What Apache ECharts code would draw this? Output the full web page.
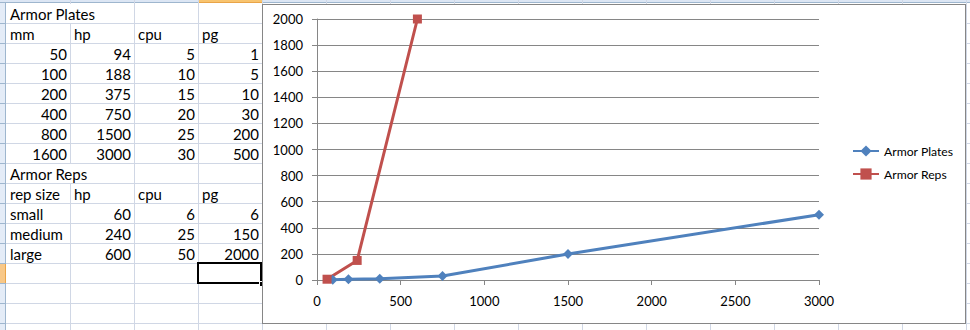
<!DOCTYPE html>
<html>
<head>
<meta charset="utf-8">
<script src="https://cdn.jsdelivr.net/npm/echarts@6/dist/echarts.min.js"></script>
<style>
  html, body { margin:0; padding:0; background:#fff; }
  body { width:970px; height:330px; overflow:hidden; position:relative; font-family: Lato, "Noto Sans", sans-serif; }
  .ln { position:absolute; background:#D0D7E5; }
  .cell { position:absolute; height:20px; line-height:21px; font-size:15px; color:#000; white-space:nowrap; box-sizing:border-box; }
  .l { text-align:left; padding-left:3px; }
  .r { text-align:right; padding-right:3px; }
  #chart { position:absolute; left:262px; top:4px; width:704px; height:320px; box-sizing:border-box; border:1px solid #868686; background:#fff; }
</style>
</head>
<body>
<div id="sheet"></div>
<div id="chart"></div>
<script>
// ---- data ----
const platesTitle = 'Armor Plates';
const platesHeader = ['mm', 'hp', 'cpu', 'pg'];
const plateMm  = [50, 100, 200, 400, 800, 1600];
const plateHp  = [94, 188, 375, 750, 1500, 3000];
const plateCpu = [5, 10, 15, 20, 25, 30];
const platePg  = [1, 5, 10, 30, 200, 500];

const repsTitle = 'Armor Reps';
const repsHeader = ['rep size', 'hp', 'cpu', 'pg'];
const repSize = ['small', 'medium', 'large'];
const repHp   = [60, 240, 600];
const repCpu  = [6, 25, 50];
const repPg   = [6, 150, 2000];

const xTicks = { min: 0, max: 3000, interval: 500 };
const yTicks = { min: 0, max: 2000, interval: 200 };

// ---- spreadsheet backdrop ----
const sheet = document.getElementById('sheet');
const COL0 = 6, COLW = 64, ROW0 = 3, ROWH = 20;
function add(html) { sheet.insertAdjacentHTML('beforeend', html); }
add('<div style="position:absolute;left:0;top:0;width:970px;height:3px;background:#DCE6F4;border-bottom:1px solid #9EB6CE;box-sizing:border-box"></div>');
add('<div style="position:absolute;left:198px;top:0;width:64px;height:3px;background:#F8C46F;border-bottom:1px solid #E9A448;box-sizing:border-box"></div>');
add('<div style="position:absolute;left:0;top:3px;width:6px;height:327px;background:#E4ECF7;border-right:1px solid #9EB6CE;box-sizing:border-box"></div>');
add('<div style="position:absolute;left:0;top:263px;width:6px;height:20px;background:#F8C888;border-right:1px solid #E9A448;box-sizing:border-box"></div>');
for (let k = 1; k < 17; k++) {
  add('<div class="ln" style="left:0;top:' + (ROW0 + k * ROWH) + 'px;width:6px;height:1px;background:#9EB6CE"></div>');
}
for (let c = 1; c < 16; c++) {
  const x = COL0 + c * COLW;
  add('<div class="ln" style="left:' + x + 'px;top:0;width:1px;height:330px"></div>');
}
for (let k = 1; k < 17; k++) {
  add('<div class="ln" style="left:6px;top:' + (ROW0 + k * ROWH) + 'px;width:964px;height:1px"></div>');
}
function cell(row, col, text, cls, span) {
  const x = COL0 + col * COLW + 1, y = ROW0 + row * ROWH + 1;
  const w = (span || 1) * COLW - 1;
  add('<div class="cell ' + cls + '" style="left:' + x + 'px;top:' + y + 'px;width:' + w + 'px;height:19px;background:#fff">' + text + '</div>');
}
cell(0, 0, platesTitle, 'l', 2);
platesHeader.forEach((h, i) => cell(1, i, h, 'l'));
plateMm.forEach((v, i) => {
  cell(2 + i, 0, v, 'r'); cell(2 + i, 1, plateHp[i], 'r');
  cell(2 + i, 2, plateCpu[i], 'r'); cell(2 + i, 3, platePg[i], 'r');
});
cell(8, 0, repsTitle, 'l', 2);
repsHeader.forEach((h, i) => cell(9, i, h, 'l'));
repSize.forEach((s, i) => {
  cell(10 + i, 0, s, 'l'); cell(10 + i, 1, repHp[i], 'r');
  cell(10 + i, 2, repCpu[i], 'r'); cell(10 + i, 3, repPg[i], 'r');
});
add('<div style="position:absolute;left:197px;top:262px;width:65px;height:22px;border:2px solid #000;box-sizing:border-box"></div>');
add('<div style="position:absolute;left:259px;top:281px;width:4px;height:4px;background:#000;border:1px solid #fff"></div>');

// ---- chart ----
const chart = echarts.init(document.getElementById('chart'), null, { renderer: 'svg' });
const F = 'Lato, "Noto Sans", sans-serif';
const plain = v => String(v);
chart.setOption({
  animation: false,
  textStyle: { fontFamily: F },
  grid: { left: 54, top: 14, width: 502, height: 261, containLabel: false },
  legend: {
    orient: 'vertical', left: 589, top: 140, padding: 0,
    itemWidth: 26, itemHeight: 14, itemGap: 11,
    textStyle: { fontFamily: F, fontSize: 12.2, color: '#000' },
    data: [platesTitle, repsTitle]
  },
  xAxis: {
    type: 'value', min: xTicks.min, max: xTicks.max, interval: xTicks.interval,
    axisLine: { show: true, onZero: false, lineStyle: { color: '#868686', width: 1 } },
    axisTick: { show: true, length: 5, lineStyle: { color: '#868686' } },
    splitLine: { show: false },
    axisLabel: { color: '#000', fontSize: 13, fontFamily: F, margin: 14, formatter: plain }
  },
  yAxis: {
    type: 'value', min: yTicks.min, max: yTicks.max, interval: yTicks.interval,
    axisLine: { show: true, lineStyle: { color: '#868686', width: 1 } },
    axisTick: { show: true, length: 5, lineStyle: { color: '#868686' } },
    splitLine: { show: true, lineStyle: { color: '#868686', width: 1 } },
    axisLabel: { color: '#000', fontSize: 13, fontFamily: F, margin: 14, formatter: plain }
  },
  series: [
    {
      name: platesTitle, type: 'line',
      data: plateHp.map((h, i) => [h, platePg[i]]),
      symbol: 'diamond', symbolSize: 10, showAllSymbol: true,
      lineStyle: { color: '#4F81BD', width: 3 },
      itemStyle: { color: '#4F81BD' }
    },
    {
      name: repsTitle, type: 'line',
      data: repHp.map((h, i) => [h, repPg[i]]),
      symbol: 'rect', symbolSize: 9, showAllSymbol: true,
      lineStyle: { color: '#C0504D', width: 3 },
      itemStyle: { color: '#C0504D' }
    }
  ]
});
</script>
</body>
</html>
